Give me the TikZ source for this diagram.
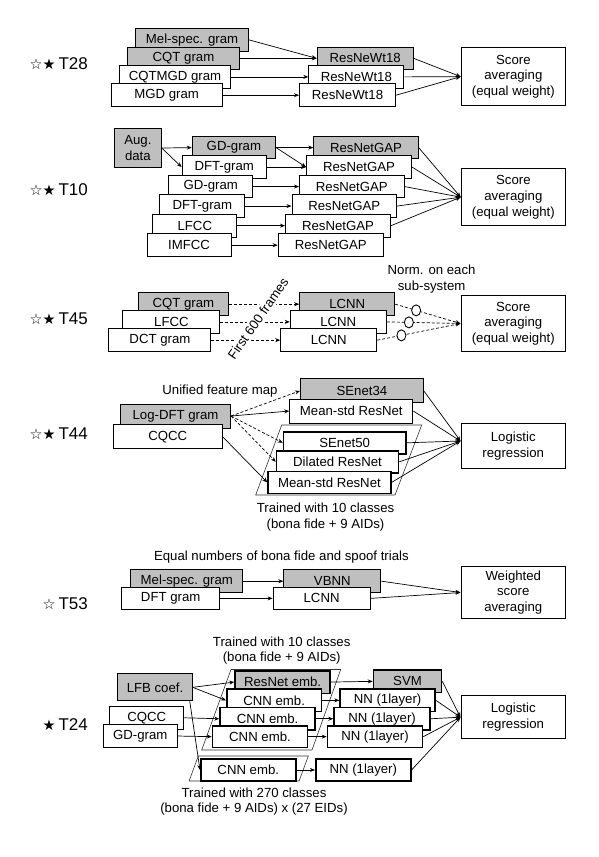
\documentclass[tikz,border=0pt]{standalone}
\usepackage{fontspec}
\setmainfont{Liberation Sans}
\newfontfamily\starfont{DejaVu Sans}
\usetikzlibrary{arrows.meta,shapes.geometric,calc}
\newcommand{\fsz}{\fontsize{13.2}{15.7}\selectfont}
\newcommand{\lsz}{\fontsize{17}{17}\selectfont}
\newcommand{\mystars}[1]{{\starfont\fontsize{14.5}{14.5}\selectfont #1}\hspace{3pt}}
\begin{document}
\begin{tikzpicture}[x=1pt,y=-1pt,
 box/.style={draw, line width=1.05pt, fill=white, anchor=north west, inner sep=0pt, font=\fsz, align=center},
 gbox/.style={box, fill=black!25},
 tbox/.style={box, line width=1.6pt},
 tgbox/.style={tbox, fill=black!25},
 wh/.style 2 args={minimum width=#1pt, minimum height=#2pt},
 conn/.style={line width=0.7pt, -{Stealth[length=5pt,width=4pt]}},
 dconn/.style={conn, dash pattern=on 3pt off 2pt},
 lbl/.style={anchor=east, font=\lsz, inner sep=0pt},
 txt/.style={font=\fsz, inner sep=0pt, align=center},
 par/.style={line width=0.6pt, draw=black!80},
 circ/.style={ellipse, draw, solid, line width=0.9pt, fill=white, minimum width=9pt, minimum height=11pt, inner sep=0pt}]
\fill[white] (0,0) rectangle (598,857);
\useasboundingbox (0,0) rectangle (598,857);

% ---------------- T28
\node[gbox, wh={113}{22.7}] (mel) at (135,28) {Mel-spec. gram};
\node[gbox, wh={112.5}{22.7}] (cqt) at (126.7,46.5) {CQT gram};
\node[box, wh={111}{22.7}] (cqtmgd) at (119,65) {CQTMGD gram};
\node[box, wh={111}{22.7}] (mgd) at (110.7,83.3) {MGD gram};
\node[gbox, wh={96}{22.7}] (rw1) at (316.7,46.5) {ResNeWt18};
\node[box, wh={95}{22.7}] (rw2) at (308.3,65) {ResNeWt18};
\node[box, wh={96}{22.7}] (rw3) at (299,83.3) {ResNeWt18};
\node[box, wh={104.3}{57.7}] (sc1) at (460.7,47.3) {Score\\averaging\\(equal weight)};
\node[lbl] (l28) at (88,63.3) {\mystars{☆★}T28};
\draw[conn] (mel.east) -- (rw1.west);
\draw[conn] (cqt.east) -- (rw1.west);
\draw[conn] (cqtmgd.east) -- (rw2.west);
\draw[conn] (mgd.east) -- (rw3.west);
\draw[conn] (rw1.east) -- (sc1.west);
\draw[conn] (rw2.east) -- (sc1.west);
\draw[conn] (rw3.east) -- (sc1.west);

% ---------------- T10
\node[gbox, wh={46.7}{38.4}] (aug) at (114,128.3) {Aug.\\data};
\node[gbox, wh={83.3}{22.7}] (gd1) at (191.7,135.7) {GD-gram};
\node[box, wh={84}{22.7}] (dft1) at (181.7,155.2) {DFT-gram};
\node[box, wh={84}{22.7}] (gd2) at (168.3,174.7) {GD-gram};
\node[box, wh={85}{22.7}] (dft2) at (159.3,194.2) {DFT-gram};
\node[box, wh={84}{22.7}] (lfcc1) at (152.3,213.8) {LFCC};
\node[box, wh={84}{22.7}] (imfcc) at (146.5,233.3) {IMFCC};
\node[gbox, wh={104.3}{22.7}] (rg1) at (313.3,135.7) {ResNetGAP};
\node[box, wh={105}{22.7}] (rg2) at (306,155.2) {ResNetGAP};
\node[box, wh={104.6}{22.7}] (rg3) at (299,174.7) {ResNetGAP};
\node[box, wh={104.5}{22.7}] (rg4) at (291.5,194.2) {ResNetGAP};
\node[box, wh={105}{22.7}] (rg5) at (285,213.8) {ResNetGAP};
\node[box, wh={105}{22.7}] (rg6) at (277.7,233.3) {ResNetGAP};
\node[box, wh={104.3}{56.7}] (sc2) at (460.7,168.3) {Score\\averaging\\(equal weight)};
\node[lbl] (l10) at (88,190) {\mystars{☆★}T10};
\draw[conn] (aug.east) -- (gd1.west);
\draw[conn] (aug.east) -- (dft1.west);
\draw[conn] (gd1.east) -- (rg1.west);
\draw[conn] (gd1.east) -- (rg2.west);
\draw[conn] (dft1.east) -- (rg2.west);
\draw[conn] (gd2.east) -- (rg3.west);
\draw[conn] (dft2.east) -- (rg4.west);
\draw[conn] (lfcc1.east) -- (rg5.west);
\draw[conn] (imfcc.east) -- (rg6.west);
\draw[conn] (rg1.east) -- (sc2.west);
\draw[conn] (rg2.east) -- (sc2.west);
\draw[conn] (rg3.east) -- (sc2.west);
\draw[conn] (rg4.east) -- (sc2.west);
\draw[conn] (rg5.east) -- (sc2.west);

% ---------------- T45
\node[gbox, wh={89.7}{22.7}] (cqt2) at (138,292.3) {CQT gram};
\node[box, wh={97}{22.7}] (lfcc2) at (122.4,310) {LFCC};
\node[box, wh={102}{22.7}] (dct) at (108.4,328.3) {DCT gram};
\node[gbox, wh={95}{22.7}] (lcnn1) at (299.2,292.3) {LCNN};
\node[box, wh={96}{22.7}] (lcnn2) at (289.7,310) {LCNN};
\node[box, wh={96}{22.7}] (lcnn3) at (280.2,328.3) {LCNN};
\node[box, wh={104.5}{56}] (sc3) at (460.5,295) {Score\\averaging\\(equal weight)};
\node[txt] (norm) at (431.6,278.8) {Norm. on each\\sub-system};
\node[lbl] (l45) at (88,318.3) {\mystars{☆★}T45};
\draw[dconn] (cqt2.east) -- (lcnn1.west);
\draw[dconn] (lfcc2.east) -- (lcnn2.west);
\draw[dconn] (dct.east) -- (lcnn3.west);
\node[txt, rotate=55, fill=white, inner sep=2pt] (ff) at (258,318.5) {First 600 frames};
\draw[dconn] (lcnn1.east) -- node[circ, pos=0.32] (o1) {} (sc3.west);
\draw[dconn] (lcnn2.east) -- node[circ, pos=0.30] (o2) {} (sc3.west);
\draw[dconn] (lcnn3.east) -- node[circ, pos=0.29] (o3) {} (sc3.west);

% ---------------- T44
\node[txt] (ufm) at (220,390.7) {Unified feature map};
\node[gbox, wh={110}{24}] (logdft) at (120,403.5) {Log-DFT gram};
\node[box, wh={109}{24}] (cqcc2) at (112.7,424.3) {CQCC};
\node[gbox, wh={122.7}{24}] (senet34) at (300,378.3) {SEnet34};
\node[box, wh={123}{24}] (msr1) at (289.3,398.5) {Mean-std ResNet};
\draw[par] (281.7,425) -- (421.7,425) -- (395,495) -- (255.7,495) -- cycle;
\node[tbox, wh={122.3}{22}] (senet50) at (282.7,431) {SEnet50};
\node[tbox, wh={122}{22}] (dilated) at (275.7,450) {Dilated ResNet};
\node[tbox, wh={122.7}{22.2}] (msr2) at (267.3,470.5) {Mean-std ResNet};
\node[box, wh={104.5}{45}] (lr1) at (460.5,423.3) {Logistic\\regression};
\coordinate (t44) at (460.5,441);
\node[txt] (tr1) at (325.5,517.1) {Trained with 10 classes\\(bona fide + 9 AIDs)};
\node[lbl] (l44) at (88,433.3) {\mystars{☆★}T44};
\draw[dconn] (logdft.east) -- (senet34.west);
\draw[conn] (logdft.east) -- (msr1.west);
\draw[dconn] (logdft.east) -- (senet50.west);
\draw[dconn] (logdft.east) -- (dilated.west);
\draw[conn] (cqcc2.east) -- (msr2.west);
\draw[conn] (senet34.east) -- (t44);
\draw[conn] (msr1.east) -- (t44);
\draw[conn] (senet50.east) -- (t44);
\draw[conn] (dilated.east) -- (t44);
\draw[conn] (msr2.east) -- (t44);

% ---------------- T53
\node[txt] (eq) at (281.4,556.7) {Equal numbers of bona fide and spoof trials};
\node[gbox, wh={111.8}{22.7}] (mel2) at (130.4,569.3) {Mel-spec. gram};
\node[box, wh={98.5}{22.7}] (dftg) at (120.9,586.5) {DFT gram};
\node[gbox, wh={97}{22.7}] (vbnn) at (283.3,569.3) {VBNN};
\node[box, wh={97}{22.7}] (lcnn5) at (272.6,586.5) {LCNN};
\node[box, wh={104.5}{52}] (ws) at (460.5,566) {Weighted\\score\\averaging};
\node[lbl] (l53) at (88,603.3) {\mystars{☆}T53};
\draw[conn] (mel2.east) -- (vbnn.west);
\draw[conn] (dftg.east) -- (lcnn5.west);
\draw[conn] (vbnn.east) -- (ws.west);
\draw[conn] (lcnn5.east) -- (ws.west);

% ---------------- T24
\node[txt] (tr2) at (281.7,650.7) {Trained with 10 classes\\(bona fide + 9 AIDs)};
\draw[par] (231,669.5) -- (340.7,669.5) -- (312,750) -- (201.7,750) -- cycle;
\draw[par] (198.3,756) -- (308.3,756) -- (299.1,781) -- (189.1,781) -- cycle;
\node[gbox, wh={74.4}{27}] (lfb) at (117.3,673.3) {LFB coef.};
\node[box, wh={74}{22.5}] (cqcc3) at (109.3,706) {CQCC};
\node[box, wh={74}{22.4}] (gdg) at (102.7,724.3) {GD-gram};
\node[tgbox, wh={95}{22.5}] (resemb) at (234.3,670) {ResNet emb.};
\node[tbox, wh={94.7}{22.5}] (cnn1) at (226,688.3) {CNN emb.};
\node[tbox, wh={95}{22.5}] (cnn2) at (219.3,706.7) {CNN emb.};
\node[tbox, wh={95}{21.7}] (cnn3) at (211.7,725) {CNN emb.};
\node[tgbox, wh={68}{22.5}] (svm) at (372.7,669.3) {SVM};
\node[tbox, wh={95}{22.5}] (nn1) at (339.3,688.3) {NN (1layer)};
\node[tbox, wh={96}{22.5}] (nn2) at (333.3,706.7) {NN (1layer)};
\node[tbox, wh={95}{21.7}] (nn3) at (326.7,725) {NN (1layer)};
\node[tbox, wh={95}{21.7}] (cnn4) at (200,758.3) {CNN emb.};
\node[tbox, wh={95}{21.7}] (nn4) at (315,758.3) {NN (1layer)};
\node[box, wh={104.5}{43.3}] (lr2) at (460.5,695) {Logistic\\regression};
\node[txt] (tr3) at (254,801.6) {Trained with 270 classes\\(bona fide + 9 AIDs) x (27 EIDs)};
\node[lbl] (l24) at (88,725) {\mystars{★}T24};
\draw[conn] (lfb.east) -- (resemb.west);
\draw[conn] (lfb.east) -- (cnn1.west);
\draw[conn] ($(lfb.south east)+(-3,0)$) -- (cnn4.west);
\draw[conn] (cqcc3.east) -- (cnn2.west);
\draw[conn] (gdg.east) -- (cnn3.west);
\draw[conn] (resemb.east) -- (svm.west);
\draw[conn] (cnn1.east) -- (nn1.west);
\draw[conn] (cnn2.east) -- (nn2.west);
\draw[conn] (cnn3.east) -- (nn3.west);
\draw[conn] (cnn4.east) -- (nn4.west);
\draw[conn] (svm.east) -- (lr2.west);
\draw[conn] (nn1.east) -- (lr2.west);
\draw[conn] (nn2.east) -- (lr2.west);
\draw[conn] (nn3.east) -- (lr2.west);
\draw[conn] (nn4.east) -- (lr2.west);
\end{tikzpicture}
\end{document}
